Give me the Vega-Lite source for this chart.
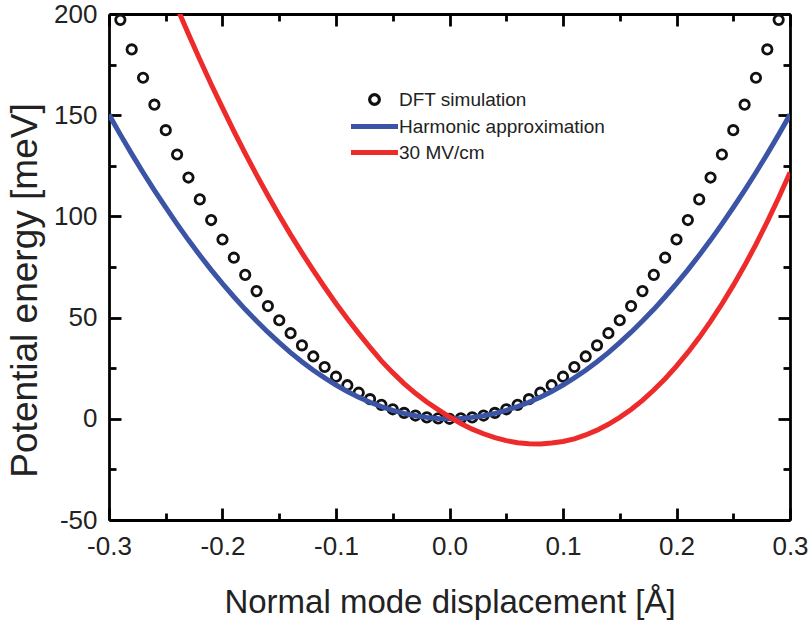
{
  "$schema": "https://vega.github.io/schema/vega-lite/v6.json",
  "width": 681,
  "height": 506,
  "autosize": {"type": "none"},
  "padding": {"left": 109, "top": 14, "right": 22, "bottom": 102},
  "background": "white",
  "config": {
    "view": {"stroke": null},
    "font": "Liberation Sans",
    "axis": {
      "grid": false,
      "domainColor": "black",
      "domainWidth": 2.8,
      "tickColor": "black",
      "tickWidth": 2.8,
      "labelFont": "Liberation Sans",
      "labelFontSize": 26,
      "labelColor": "#222222",
      "labelOverlap": false,
      "labelFlush": false,
      "titleFont": "Liberation Sans",
      "titleFontWeight": "normal",
      "titleColor": "#222222"
    },
    "legend": {
      "title": null, "orient": "none", "legendX": 256, "legendY": 76,
      "labelFont": "Liberation Sans", "labelFontSize": 19, "labelColor": "#222222", "labelLimit": 0,
      "symbolSize": 2209, "symbolStrokeWidth": 5, "labelOffset": 15, "rowPadding": 5, "padding": 0
    }
  },
  "datasets": {
    "dft": [
      {"x": -0.29, "E": 197.1, "series": "DFT simulation"},
      {"x": -0.28, "E": 182.5, "series": "DFT simulation"},
      {"x": -0.27, "E": 168.5, "series": "DFT simulation"},
      {"x": -0.26, "E": 155.2, "series": "DFT simulation"},
      {"x": -0.25, "E": 142.6, "series": "DFT simulation"},
      {"x": -0.24, "E": 130.6, "series": "DFT simulation"},
      {"x": -0.23, "E": 119.2, "series": "DFT simulation"},
      {"x": -0.22, "E": 108.4, "series": "DFT simulation"},
      {"x": -0.21, "E": 98.2, "series": "DFT simulation"},
      {"x": -0.20, "E": 88.6, "series": "DFT simulation"},
      {"x": -0.19, "E": 79.6, "series": "DFT simulation"},
      {"x": -0.18, "E": 71.1, "series": "DFT simulation"},
      {"x": -0.17, "E": 63.1, "series": "DFT simulation"},
      {"x": -0.16, "E": 55.7, "series": "DFT simulation"},
      {"x": -0.15, "E": 48.7, "series": "DFT simulation"},
      {"x": -0.14, "E": 42.3, "series": "DFT simulation"},
      {"x": -0.13, "E": 36.3, "series": "DFT simulation"},
      {"x": -0.12, "E": 30.8, "series": "DFT simulation"},
      {"x": -0.11, "E": 25.6, "series": "DFT simulation"},
      {"x": -0.10, "E": 20.8, "series": "DFT simulation"},
      {"x": -0.09, "E": 16.6, "series": "DFT simulation"},
      {"x": -0.08, "E": 12.9, "series": "DFT simulation"},
      {"x": -0.07, "E": 9.7, "series": "DFT simulation"},
      {"x": -0.06, "E": 6.9, "series": "DFT simulation"},
      {"x": -0.05, "E": 4.7, "series": "DFT simulation"},
      {"x": -0.04, "E": 2.9, "series": "DFT simulation"},
      {"x": -0.03, "E": 1.6, "series": "DFT simulation"},
      {"x": -0.02, "E": 0.7, "series": "DFT simulation"},
      {"x": -0.01, "E": 0.2, "series": "DFT simulation"},
      {"x": 0.00, "E": 0.0, "series": "DFT simulation"},
      {"x": 0.01, "E": 0.2, "series": "DFT simulation"},
      {"x": 0.02, "E": 0.7, "series": "DFT simulation"},
      {"x": 0.03, "E": 1.6, "series": "DFT simulation"},
      {"x": 0.04, "E": 2.9, "series": "DFT simulation"},
      {"x": 0.05, "E": 4.7, "series": "DFT simulation"},
      {"x": 0.06, "E": 6.9, "series": "DFT simulation"},
      {"x": 0.07, "E": 9.7, "series": "DFT simulation"},
      {"x": 0.08, "E": 12.9, "series": "DFT simulation"},
      {"x": 0.09, "E": 16.6, "series": "DFT simulation"},
      {"x": 0.10, "E": 20.8, "series": "DFT simulation"},
      {"x": 0.11, "E": 25.6, "series": "DFT simulation"},
      {"x": 0.12, "E": 30.8, "series": "DFT simulation"},
      {"x": 0.13, "E": 36.3, "series": "DFT simulation"},
      {"x": 0.14, "E": 42.3, "series": "DFT simulation"},
      {"x": 0.15, "E": 48.7, "series": "DFT simulation"},
      {"x": 0.16, "E": 55.7, "series": "DFT simulation"},
      {"x": 0.17, "E": 63.1, "series": "DFT simulation"},
      {"x": 0.18, "E": 71.1, "series": "DFT simulation"},
      {"x": 0.19, "E": 79.6, "series": "DFT simulation"},
      {"x": 0.20, "E": 88.6, "series": "DFT simulation"},
      {"x": 0.21, "E": 98.2, "series": "DFT simulation"},
      {"x": 0.22, "E": 108.4, "series": "DFT simulation"},
      {"x": 0.23, "E": 119.2, "series": "DFT simulation"},
      {"x": 0.24, "E": 130.6, "series": "DFT simulation"},
      {"x": 0.25, "E": 142.6, "series": "DFT simulation"},
      {"x": 0.26, "E": 155.2, "series": "DFT simulation"},
      {"x": 0.27, "E": 168.5, "series": "DFT simulation"},
      {"x": 0.28, "E": 182.5, "series": "DFT simulation"},
      {"x": 0.29, "E": 197.1, "series": "DFT simulation"}
    ],
    "curves": [
      {"x": -0.30, "E": 150.3, "series": "Harmonic approximation"},
      {"x": -0.29, "E": 140.4, "series": "Harmonic approximation"},
      {"x": -0.28, "E": 130.9, "series": "Harmonic approximation"},
      {"x": -0.27, "E": 121.7, "series": "Harmonic approximation"},
      {"x": -0.26, "E": 112.9, "series": "Harmonic approximation"},
      {"x": -0.25, "E": 104.4, "series": "Harmonic approximation"},
      {"x": -0.24, "E": 96.2, "series": "Harmonic approximation"},
      {"x": -0.23, "E": 88.3, "series": "Harmonic approximation"},
      {"x": -0.22, "E": 80.8, "series": "Harmonic approximation"},
      {"x": -0.21, "E": 73.6, "series": "Harmonic approximation"},
      {"x": -0.20, "E": 66.8, "series": "Harmonic approximation"},
      {"x": -0.19, "E": 60.3, "series": "Harmonic approximation"},
      {"x": -0.18, "E": 54.1, "series": "Harmonic approximation"},
      {"x": -0.17, "E": 48.3, "series": "Harmonic approximation"},
      {"x": -0.16, "E": 42.8, "series": "Harmonic approximation"},
      {"x": -0.15, "E": 37.6, "series": "Harmonic approximation"},
      {"x": -0.14, "E": 32.7, "series": "Harmonic approximation"},
      {"x": -0.13, "E": 28.2, "series": "Harmonic approximation"},
      {"x": -0.12, "E": 24.0, "series": "Harmonic approximation"},
      {"x": -0.11, "E": 20.2, "series": "Harmonic approximation"},
      {"x": -0.10, "E": 16.7, "series": "Harmonic approximation"},
      {"x": -0.09, "E": 13.5, "series": "Harmonic approximation"},
      {"x": -0.08, "E": 10.7, "series": "Harmonic approximation"},
      {"x": -0.07, "E": 8.2, "series": "Harmonic approximation"},
      {"x": -0.06, "E": 6.0, "series": "Harmonic approximation"},
      {"x": -0.05, "E": 4.2, "series": "Harmonic approximation"},
      {"x": -0.04, "E": 2.7, "series": "Harmonic approximation"},
      {"x": -0.03, "E": 1.5, "series": "Harmonic approximation"},
      {"x": -0.02, "E": 0.7, "series": "Harmonic approximation"},
      {"x": -0.01, "E": 0.2, "series": "Harmonic approximation"},
      {"x": 0.00, "E": 0.0, "series": "Harmonic approximation"},
      {"x": 0.01, "E": 0.2, "series": "Harmonic approximation"},
      {"x": 0.02, "E": 0.7, "series": "Harmonic approximation"},
      {"x": 0.03, "E": 1.5, "series": "Harmonic approximation"},
      {"x": 0.04, "E": 2.7, "series": "Harmonic approximation"},
      {"x": 0.05, "E": 4.2, "series": "Harmonic approximation"},
      {"x": 0.06, "E": 6.0, "series": "Harmonic approximation"},
      {"x": 0.07, "E": 8.2, "series": "Harmonic approximation"},
      {"x": 0.08, "E": 10.7, "series": "Harmonic approximation"},
      {"x": 0.09, "E": 13.5, "series": "Harmonic approximation"},
      {"x": 0.10, "E": 16.7, "series": "Harmonic approximation"},
      {"x": 0.11, "E": 20.2, "series": "Harmonic approximation"},
      {"x": 0.12, "E": 24.0, "series": "Harmonic approximation"},
      {"x": 0.13, "E": 28.2, "series": "Harmonic approximation"},
      {"x": 0.14, "E": 32.7, "series": "Harmonic approximation"},
      {"x": 0.15, "E": 37.6, "series": "Harmonic approximation"},
      {"x": 0.16, "E": 42.8, "series": "Harmonic approximation"},
      {"x": 0.17, "E": 48.3, "series": "Harmonic approximation"},
      {"x": 0.18, "E": 54.1, "series": "Harmonic approximation"},
      {"x": 0.19, "E": 60.3, "series": "Harmonic approximation"},
      {"x": 0.20, "E": 66.8, "series": "Harmonic approximation"},
      {"x": 0.21, "E": 73.6, "series": "Harmonic approximation"},
      {"x": 0.22, "E": 80.8, "series": "Harmonic approximation"},
      {"x": 0.23, "E": 88.3, "series": "Harmonic approximation"},
      {"x": 0.24, "E": 96.2, "series": "Harmonic approximation"},
      {"x": 0.25, "E": 104.4, "series": "Harmonic approximation"},
      {"x": 0.26, "E": 112.9, "series": "Harmonic approximation"},
      {"x": 0.27, "E": 121.7, "series": "Harmonic approximation"},
      {"x": 0.28, "E": 130.9, "series": "Harmonic approximation"},
      {"x": 0.29, "E": 140.4, "series": "Harmonic approximation"},
      {"x": 0.30, "E": 150.3, "series": "Harmonic approximation"},
      {"x": -0.25, "E": 216.5, "series": "30 MV/cm"},
      {"x": -0.24, "E": 203.1, "series": "30 MV/cm"},
      {"x": -0.23, "E": 190.1, "series": "30 MV/cm"},
      {"x": -0.22, "E": 177.5, "series": "30 MV/cm"},
      {"x": -0.21, "E": 165.3, "series": "30 MV/cm"},
      {"x": -0.20, "E": 153.6, "series": "30 MV/cm"},
      {"x": -0.19, "E": 142.1, "series": "30 MV/cm"},
      {"x": -0.18, "E": 131.1, "series": "30 MV/cm"},
      {"x": -0.17, "E": 120.5, "series": "30 MV/cm"},
      {"x": -0.16, "E": 110.3, "series": "30 MV/cm"},
      {"x": -0.15, "E": 100.5, "series": "30 MV/cm"},
      {"x": -0.14, "E": 91.0, "series": "30 MV/cm"},
      {"x": -0.13, "E": 82.0, "series": "30 MV/cm"},
      {"x": -0.12, "E": 73.3, "series": "30 MV/cm"},
      {"x": -0.11, "E": 65.0, "series": "30 MV/cm"},
      {"x": -0.10, "E": 57.0, "series": "30 MV/cm"},
      {"x": -0.09, "E": 49.4, "series": "30 MV/cm"},
      {"x": -0.08, "E": 42.2, "series": "30 MV/cm"},
      {"x": -0.07, "E": 35.3, "series": "30 MV/cm"},
      {"x": -0.06, "E": 28.6, "series": "30 MV/cm"},
      {"x": -0.05, "E": 22.8, "series": "30 MV/cm"},
      {"x": -0.04, "E": 17.4, "series": "30 MV/cm"},
      {"x": -0.03, "E": 12.6, "series": "30 MV/cm"},
      {"x": -0.02, "E": 8.3, "series": "30 MV/cm"},
      {"x": -0.01, "E": 4.5, "series": "30 MV/cm"},
      {"x": 0.00, "E": 1.0, "series": "30 MV/cm"},
      {"x": 0.01, "E": -2.3, "series": "30 MV/cm"},
      {"x": 0.02, "E": -5.1, "series": "30 MV/cm"},
      {"x": 0.03, "E": -7.4, "series": "30 MV/cm"},
      {"x": 0.04, "E": -9.3, "series": "30 MV/cm"},
      {"x": 0.05, "E": -10.8, "series": "30 MV/cm"},
      {"x": 0.06, "E": -11.8, "series": "30 MV/cm"},
      {"x": 0.07, "E": -12.3, "series": "30 MV/cm"},
      {"x": 0.08, "E": -12.4, "series": "30 MV/cm"},
      {"x": 0.09, "E": -12.0, "series": "30 MV/cm"},
      {"x": 0.10, "E": -11.2, "series": "30 MV/cm"},
      {"x": 0.11, "E": -9.9, "series": "30 MV/cm"},
      {"x": 0.12, "E": -8.0, "series": "30 MV/cm"},
      {"x": 0.13, "E": -5.6, "series": "30 MV/cm"},
      {"x": 0.14, "E": -2.7, "series": "30 MV/cm"},
      {"x": 0.15, "E": 0.7, "series": "30 MV/cm"},
      {"x": 0.16, "E": 4.6, "series": "30 MV/cm"},
      {"x": 0.17, "E": 9.1, "series": "30 MV/cm"},
      {"x": 0.18, "E": 14.2, "series": "30 MV/cm"},
      {"x": 0.19, "E": 19.8, "series": "30 MV/cm"},
      {"x": 0.20, "E": 26.0, "series": "30 MV/cm"},
      {"x": 0.21, "E": 32.8, "series": "30 MV/cm"},
      {"x": 0.22, "E": 40.1, "series": "30 MV/cm"},
      {"x": 0.23, "E": 48.1, "series": "30 MV/cm"},
      {"x": 0.24, "E": 56.7, "series": "30 MV/cm"},
      {"x": 0.25, "E": 65.9, "series": "30 MV/cm"},
      {"x": 0.26, "E": 75.7, "series": "30 MV/cm"},
      {"x": 0.27, "E": 86.2, "series": "30 MV/cm"},
      {"x": 0.28, "E": 97.4, "series": "30 MV/cm"},
      {"x": 0.29, "E": 109.2, "series": "30 MV/cm"},
      {"x": 0.30, "E": 121.7, "series": "30 MV/cm"}
    ]
  },
  "layer": [
    {
      "data": {"name": "dft"},
      "mark": {"type": "point", "filled": false, "size": 88, "strokeWidth": 2.8, "opacity": 1, "clip": true},
      "encoding": {
        "x": {
          "field": "x", "type": "quantitative",
          "scale": {"domain": [-0.3, 0.3], "nice": false, "zero": false},
          "axis": {
            "orient": "bottom",
            "values": [-0.3, -0.25, -0.2, -0.15, -0.1, -0.05, 0, 0.05, 0.1, 0.15, 0.2, 0.25, 0.3],
            "tickSize": {"condition": {"test": "abs(datum.value*10 - round(datum.value*10)) < 0.001", "value": -12}, "value": -7},
            "labelExpr": "abs(datum.value*10 - round(datum.value*10)) < 0.001 ? (datum.value < -0.001 ? '-' : '') + format(abs(datum.value), '.1f') : ''",
            "labelPadding": 25,
            "title": "Normal mode displacement [Å]",
            "titleFontSize": 33,
            "titleBaseline": "alphabetic",
            "titleX": 340.5,
            "titleY": 92
          }
        },
        "y": {
          "field": "E", "type": "quantitative",
          "scale": {"domain": [-50, 200], "nice": false, "zero": false},
          "axis": {
            "orient": "left",
            "values": [-50, -25, 0, 25, 50, 75, 100, 125, 150, 175, 200],
            "tickSize": {"condition": {"test": "datum.value % 50 == 0", "value": -12}, "value": -7},
            "labelExpr": "datum.value % 50 == 0 ? (datum.value < 0 ? '-' : '') + abs(datum.value) : ''",
            "labelPadding": 24,
            "title": "Potential energy [meV]",
            "titleFontSize": 37,
            "titleBaseline": "alphabetic",
            "titleAngle": -90,
            "titleX": -73,
            "titleY": 276
          }
        },
        "color": {
          "field": "series", "type": "nominal",
          "scale": {"domain": ["DFT simulation", "Harmonic approximation", "30 MV/cm"], "range": ["#111111", "#3b54a5", "#ee2b2b"]},
          "legend": {
            "encode": {"symbols": {"update": {
              "size": {"signal": "datum.value == 'DFT simulation' ? 95 : 2209"},
              "strokeWidth": {"signal": "datum.value == 'DFT simulation' ? 3.2 : 5"}
            }}}
          }
        },
        "shape": {
          "field": "series", "type": "nominal",
          "scale": {"domain": ["DFT simulation", "Harmonic approximation", "30 MV/cm"], "range": ["circle", "stroke", "stroke"]},
          "legend": {
            "encode": {"symbols": {"update": {
              "size": {"signal": "datum.value == 'DFT simulation' ? 95 : 2209"},
              "strokeWidth": {"signal": "datum.value == 'DFT simulation' ? 3.2 : 5"}
            }}}
          }
        }
      }
    },
    {
      "data": {"name": "curves"},
      "mark": {"type": "line", "strokeWidth": 5, "clip": true},
      "encoding": {
        "x": {
          "field": "x", "type": "quantitative",
          "scale": {"domain": [-0.3, 0.3], "nice": false, "zero": false},
          "axis": {
            "orient": "top",
            "values": [-0.3, -0.25, -0.2, -0.15, -0.1, -0.05, 0, 0.05, 0.1, 0.15, 0.2, 0.25, 0.3],
            "tickSize": {"condition": {"test": "abs(datum.value*10 - round(datum.value*10)) < 0.001", "value": -12}, "value": -7},
            "labels": false,
            "title": null
          }
        },
        "y": {
          "field": "E", "type": "quantitative",
          "scale": {"domain": [-50, 200], "nice": false, "zero": false},
          "axis": {
            "orient": "right",
            "values": [-50, -25, 0, 25, 50, 75, 100, 125, 150, 175, 200],
            "tickSize": {"condition": {"test": "datum.value % 50 == 0", "value": -12}, "value": -7},
            "labels": false,
            "title": null
          }
        },
        "color": {
          "field": "series", "type": "nominal",
          "legend": {
            "encode": {"symbols": {"update": {
              "size": {"signal": "datum.value == 'DFT simulation' ? 95 : 2209"},
              "strokeWidth": {"signal": "datum.value == 'DFT simulation' ? 3.2 : 5"}
            }}}
          }
        }
      }
    }
  ],
  "resolve": {"axis": {"x": "independent", "y": "independent"}}
}
